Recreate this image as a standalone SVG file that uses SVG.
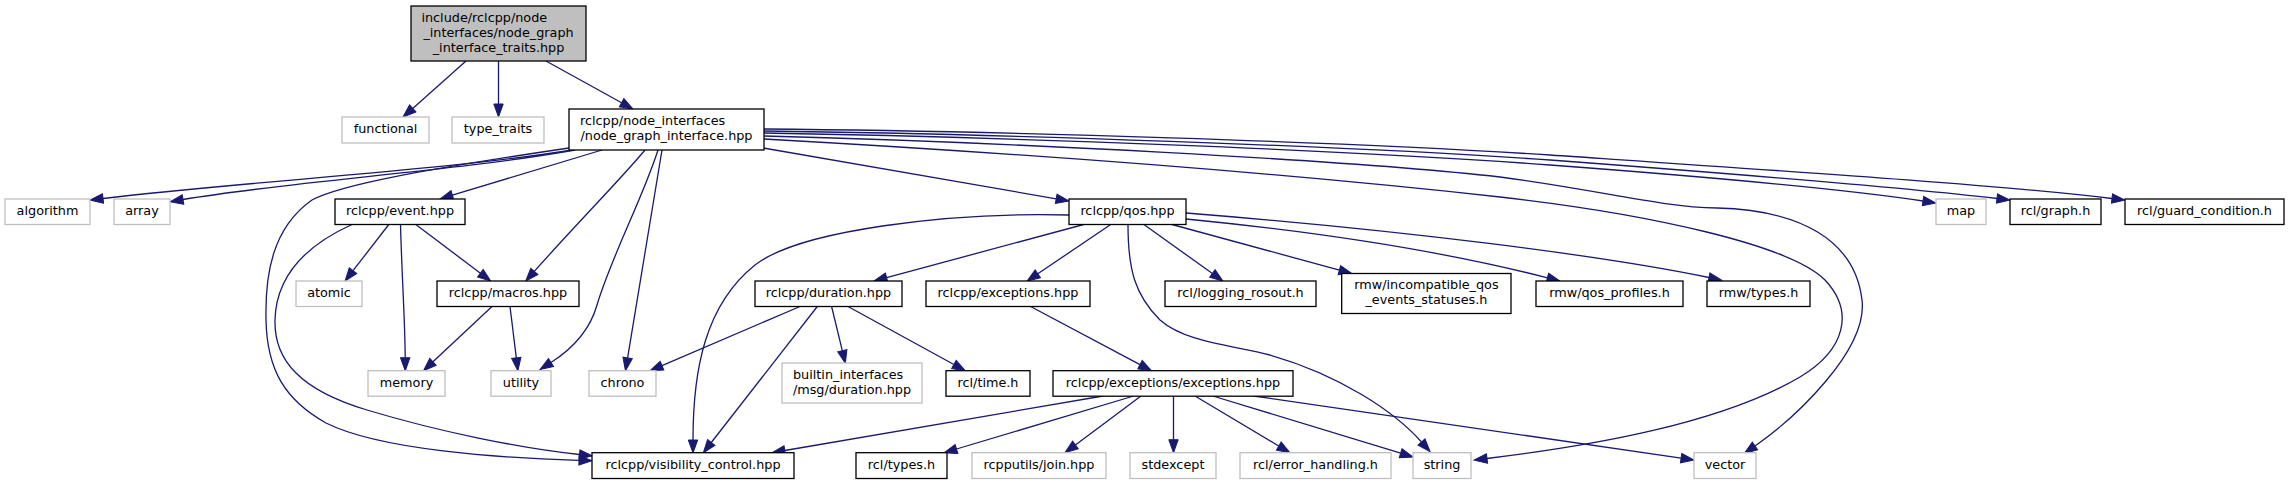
<svg xmlns="http://www.w3.org/2000/svg" width="2290" height="484" viewBox="0 0 2290 484">
<style>
rect{fill:#fff;stroke:#000;stroke-width:1.3}
.x rect{stroke:#bfbfbf}
.root rect{fill:#bfbfbf}
text{font-family:"DejaVu Sans","Liberation Sans",sans-serif;font-size:12.8px;fill:#000;text-anchor:middle}
text.l{text-anchor:start}
#edges path{fill:none;stroke:#191970;stroke-width:1.3;marker-end:url(#a)}
</style>
<defs>
<marker id="a" markerUnits="userSpaceOnUse" markerWidth="14" markerHeight="10" refX="0" refY="5" orient="auto" viewBox="0 0 14 10" overflow="visible">
<path d="M0,0.3 L13,5 L0,9.7 z" fill="#191970" stroke="#191970" stroke-width="1"/>
</marker>
</defs>
<rect x="0" y="0" width="2290" height="484" style="fill:#fff;stroke:none"/>
<g id="edges">
<path d="M466,61 L412.7,108.4"/>
<path d="M498.5,61 L498.5,104"/>
<path d="M546,61 L621.6,102.7"/>
<path d="M572,150 C450,170 250,181 103,198.5"/>
<path d="M575,150 C450,172 300,180 183,199.5"/>
<path d="M569,148 C420,170 340,185 312,200 C272,228 265,275 266,320 C267,370 285,400 326,423 C380,450 500,458 579,460.3"/>
<path d="M602,150 L452.4,195.2"/>
<path d="M645,150 C620,180 580,220 534.3,271.4"/>
<path d="M658,150 C642,200 612,255 597,305 C590,330 572,349 551,362.5"/>
<path d="M662,150 L627.6,357.9"/>
<path d="M763.3,148 L1056.2,198.8"/>
<path d="M764,133 C1000,137 1350,150 1550,165 C1750,180 1850,190 1923,201"/>
<path d="M764,131 C1000,134 1350,146 1550,160 C1750,175 1900,187 1997,198.5"/>
<path d="M764,129 C1000,131 1350,142 1550,155 C1800,172 2000,185 2112,198.5"/>
<path d="M764,136 C1000,142 1350,160 1500,177 C1600,190 1660,207 1717,208 C1800,210 1855,240 1862,300 C1868,350 1795,418 1755,446"/>
<path d="M764,139 C1050,155 1300,175 1500,197 C1650,214 1790,245 1825,280 C1855,312 1845,350 1800,377 C1720,424 1590,446 1487,458.5"/>
<path d="M1083.7,224.5 L886.6,277.6"/>
<path d="M1110.7,224.5 L1037.8,273.8"/>
<path d="M1143.9,224.5 L1212.4,273.5"/>
<path d="M1172,224.5 L1339.4,270.1"/>
<path d="M1186,219 C1350,235 1470,258 1547.4,277.8"/>
<path d="M1186,213 C1400,230 1600,255 1709,277.5"/>
<path d="M1128,224.5 C1128,270 1135,295 1160,320 C1185,342 1230,345 1270,355 C1340,375 1395,412 1421.5,442"/>
<path d="M1069,215 C950,212 800,230 755,265 C705,305 693,370 693,440"/>
<path d="M800,306.5 L662,365.6"/>
<path d="M817.3,306.5 L711.3,442.5"/>
<path d="M831.6,306.5 L842.3,350.7"/>
<path d="M848,306.5 L953.9,364.5"/>
<path d="M1030.6,306.5 L1140,364.6"/>
<path d="M388.8,224.5 L353,270.7"/>
<path d="M400.5,224.5 C402,280 405,320 405.2,357.7"/>
<path d="M415.8,224.5 L480.4,273.2"/>
<path d="M352,224.5 C300,248 276,280 275,320 C274,360 300,390 367,410 C440,432 520,448 579.5,454.5"/>
<path d="M492,306.5 L433,361.8"/>
<path d="M510,306.5 L516.3,357.8"/>
<path d="M1103,396 L784.8,450.5"/>
<path d="M1133.7,396 L956.5,449"/>
<path d="M1141,396 L1075.4,444.9"/>
<path d="M1173.5,396 L1173.5,439.7"/>
<path d="M1195,396 L1278.8,446"/>
<path d="M1212.8,396 L1400.6,453.2"/>
<path d="M1253.6,396 L1681.1,458.1"/>
</g>
<g id="n_root" class="root"><rect x="411" y="6" width="175" height="55"/><text class="l" x="421.4" y="21.5">include/rclcpp/node</text><text x="498.5" y="36.5">_interfaces/node_graph</text><text x="498.5" y="51.5">_interface_traits.hpp</text></g>
<g id="n_functional" class="x"><rect x="342" y="117" width="87" height="26"/><text x="385.5" y="133">functional</text></g>
<g id="n_type_traits" class="x"><rect x="452" y="117" width="92" height="26"/><text x="498" y="133">type_traits</text></g>
<g id="n_node_graph_interface"><rect x="569" y="109" width="195" height="41"/><text class="l" x="580" y="124.5">rclcpp/node_interfaces</text><text x="666.5" y="139.5">/node_graph_interface.hpp</text></g>
<g id="n_algorithm" class="x"><rect x="5" y="199" width="85" height="25.5"/><text x="47.5" y="215">algorithm</text></g>
<g id="n_array" class="x"><rect x="114" y="199" width="56" height="25.5"/><text x="142" y="215">array</text></g>
<g id="n_event"><rect x="335" y="199" width="130" height="25.5"/><text x="400" y="215">rclcpp/event.hpp</text></g>
<g id="n_qos"><rect x="1069" y="199" width="117" height="25.5"/><text x="1127.5" y="215">rclcpp/qos.hpp</text></g>
<g id="n_map" class="x"><rect x="1936" y="199" width="50" height="25.5"/><text x="1961" y="215">map</text></g>
<g id="n_graph"><rect x="2010" y="199" width="91" height="25.5"/><text x="2055.5" y="215">rcl/graph.h</text></g>
<g id="n_guard"><rect x="2125" y="199" width="159" height="25.5"/><text x="2204.5" y="215">rcl/guard_condition.h</text></g>
<g id="n_atomic" class="x"><rect x="296" y="281" width="66" height="25.5"/><text x="329" y="297">atomic</text></g>
<g id="n_macros"><rect x="437" y="281" width="142" height="25.5"/><text x="508" y="297">rclcpp/macros.hpp</text></g>
<g id="n_duration"><rect x="755" y="281" width="147" height="25.5"/><text x="828.5" y="297">rclcpp/duration.hpp</text></g>
<g id="n_exceptions"><rect x="926" y="281" width="164" height="25.5"/><text x="1008" y="297">rclcpp/exceptions.hpp</text></g>
<g id="n_logging"><rect x="1165" y="281" width="151" height="25.5"/><text x="1240.5" y="297">rcl/logging_rosout.h</text></g>
<g id="n_incompatible"><rect x="1341.7" y="273.5" width="169.3" height="40"/><text x="1426.4" y="289">rmw/incompatible_qos</text><text x="1426.4" y="304">_events_statuses.h</text></g>
<g id="n_qos_profiles"><rect x="1536" y="281" width="147" height="25.5"/><text x="1609.5" y="297">rmw/qos_profiles.h</text></g>
<g id="n_rmw_types"><rect x="1707" y="281" width="103" height="25.5"/><text x="1758.5" y="297">rmw/types.h</text></g>
<g id="n_memory" class="x"><rect x="368" y="370.7" width="77" height="25.5"/><text x="406.5" y="386.7">memory</text></g>
<g id="n_utility" class="x"><rect x="491" y="370.7" width="60" height="25.5"/><text x="521" y="386.7">utility</text></g>
<g id="n_chrono" class="x"><rect x="589" y="370.7" width="67" height="25.5"/><text x="622.5" y="386.7">chrono</text></g>
<g id="n_builtin" class="x"><rect x="782" y="363" width="140" height="40"/><text class="l" x="793" y="378.5">builtin_interfaces</text><text x="852" y="393.5">/msg/duration.hpp</text></g>
<g id="n_time"><rect x="946" y="370.7" width="84" height="25.5"/><text x="988" y="386.7">rcl/time.h</text></g>
<g id="n_exc_exc"><rect x="1053" y="370.7" width="240" height="25.5"/><text x="1173" y="386.7">rclcpp/exceptions/exceptions.hpp</text></g>
<g id="n_visibility"><rect x="592" y="452.7" width="202" height="25.8"/><text x="693" y="468.7">rclcpp/visibility_control.hpp</text></g>
<g id="n_rcl_types"><rect x="856" y="452.7" width="91" height="25.8"/><text x="901.5" y="468.7">rcl/types.h</text></g>
<g id="n_join" class="x"><rect x="972" y="452.7" width="134" height="25.8"/><text x="1039" y="468.7">rcpputils/join.hpp</text></g>
<g id="n_stdexcept" class="x"><rect x="1130" y="452.7" width="86" height="25.8"/><text x="1173" y="468.7">stdexcept</text></g>
<g id="n_error" class="x"><rect x="1240" y="452.7" width="151" height="25.8"/><text x="1315.5" y="468.7">rcl/error_handling.h</text></g>
<g id="n_string" class="x"><rect x="1413" y="452.7" width="58" height="25.8"/><text x="1442" y="468.7">string</text></g>
<g id="n_vector" class="x"><rect x="1694" y="452.7" width="62" height="25.8"/><text x="1725" y="468.7">vector</text></g>
</svg>
